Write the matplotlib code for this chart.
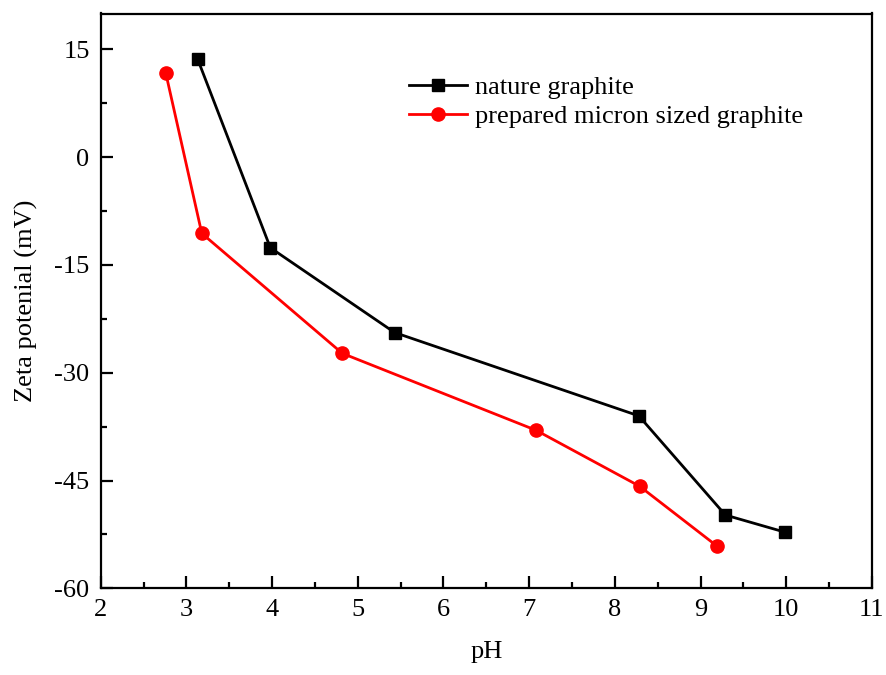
import numpy as np
import matplotlib.pyplot as plt

plt.rcParams['font.family'] = ['Liberation Serif', 'DejaVu Serif']
plt.rcParams['axes.unicode_minus'] = False

# nature graphite
ph_nat = [3.13, 3.98, 5.43, 8.28, 9.29, 9.99]
zeta_nat = [13.7, -12.6, -24.4, -36.0, -49.8, -52.2]

# prepared micron sized graphite
ph_prep = [2.76, 3.18, 4.82, 7.08, 8.29, 9.19]
zeta_prep = [11.7, -10.6, -27.3, -38.0, -45.8, -54.1]

fig = plt.figure(figsize=(8.87, 6.75), dpi=100)
ax = fig.add_axes([0.1135, 0.1284, 0.8695, 0.8516])

ax.plot(ph_nat, zeta_nat, color='black', lw=2.0, marker='s', ms=8.5,
        label='nature graphite')
ax.plot(ph_prep, zeta_prep, color='#ff0000', lw=2.0, marker='o', ms=9.5,
        label='prepared micron sized graphite')

ax.set_xlim(2, 11)
ax.set_ylim(-60, 20)
ax.set_xticks(np.arange(2, 12, 1))
ax.set_xticks(np.arange(2.5, 11, 1), minor=True)
ax.set_yticks([-60, -45, -30, -15, 0, 15])
ax.set_yticks([-52.5, -37.5, -22.5, -7.5, 7.5], minor=True)

for s in ax.spines.values():
    s.set_linewidth(1.6)
ax.tick_params(which='both', direction='in', top=False, right=False,
               labelsize=19, width=1.6)
ax.tick_params(which='major', length=8.5, pad=8)
ax.tick_params(which='minor', length=4.5)

ax.set_xlabel('pH', fontsize=19, labelpad=14)
ax.set_ylabel('Zeta potenial (mV)', fontsize=19, labelpad=12)

ax.legend(loc='upper left', bbox_to_anchor=(0.383, 0.915), frameon=False,
          fontsize=19, borderpad=0, handlelength=2.2, handletextpad=0.3,
          labelspacing=0.2)

fig.savefig('out.png', dpi=100)
